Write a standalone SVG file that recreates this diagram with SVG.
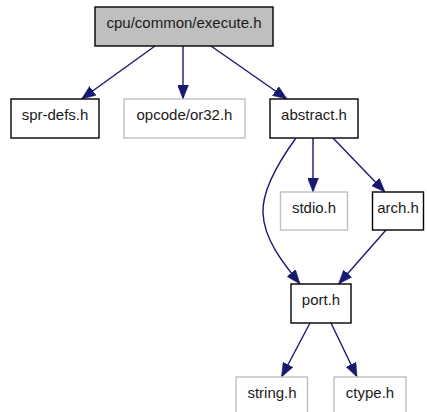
<svg xmlns="http://www.w3.org/2000/svg" width="427" height="412" viewBox="0 0 427 412">
<style>
  .bg { fill: #ffffff; }
  .node rect { fill: #ffffff; stroke: #000000; stroke-width: 1.4; }
  .node.grey rect { stroke: #bfbfbf; }
  .node.main rect { fill: #bfbfbf; }
  .node text { font-family: "Liberation Sans", Arial, sans-serif; font-size: 15px; fill: #1a1a1a; text-anchor: middle; }
  .edges path { fill: none; stroke: #191970; stroke-width: 1.4; marker-end: url(#arrow); }
</style>
<defs>
  <marker id="arrow" viewBox="0 0 14 11" refX="14" refY="5.5" markerWidth="14" markerHeight="11" markerUnits="userSpaceOnUse" orient="auto">
    <path d="M0,0 L14,5.5 L0,11 z" fill="#191970" stroke="#191970" stroke-width="0.5"/>
  </marker>
</defs>
<rect class="bg" x="0" y="0" width="427" height="412"/>
<g id="edges" class="edges">
  <path d="M155,46 L81.5,99"/>
  <path d="M183,46 L183,99"/>
  <path d="M211,46 L287,99"/>
  <path d="M296,138 C280,160 262,190 263,213 C264,240 284,264 300,284"/>
  <path d="M313,138 L313,192"/>
  <path d="M333,138 L385,192"/>
  <path d="M386,230 L338.5,284"/>
  <path d="M310,323 L281.5,377"/>
  <path d="M331,323 L357,377"/>
</g>
<g id="node-execute" class="node main">
  <rect x="95" y="7" width="178" height="39"/>
  <text x="184" y="28">cpu/common/execute.h</text>
</g>
<g id="node-spr-defs" class="node">
  <rect x="11" y="99" width="88" height="39"/>
  <text x="55" y="120">spr-defs.h</text>
</g>
<g id="node-opcode" class="node grey">
  <rect x="124" y="99" width="121" height="39"/>
  <text x="184.5" y="120">opcode/or32.h</text>
</g>
<g id="node-abstract" class="node">
  <rect x="270" y="99" width="88" height="39"/>
  <text x="314" y="120">abstract.h</text>
</g>
<g id="node-stdio" class="node grey">
  <rect x="280.5" y="192" width="67" height="38"/>
  <text x="314" y="213">stdio.h</text>
</g>
<g id="node-arch" class="node">
  <rect x="372.5" y="192" width="51" height="38"/>
  <text x="398" y="213">arch.h</text>
</g>
<g id="node-port" class="node">
  <rect x="291" y="284" width="60" height="39"/>
  <text x="321" y="305">port.h</text>
</g>
<g id="node-string" class="node grey">
  <rect x="236" y="377" width="71.5" height="40"/>
  <text x="272" y="398">string.h</text>
</g>
<g id="node-ctype" class="node grey">
  <rect x="334" y="377" width="72" height="40"/>
  <text x="370" y="398">ctype.h</text>
</g>
</svg>
